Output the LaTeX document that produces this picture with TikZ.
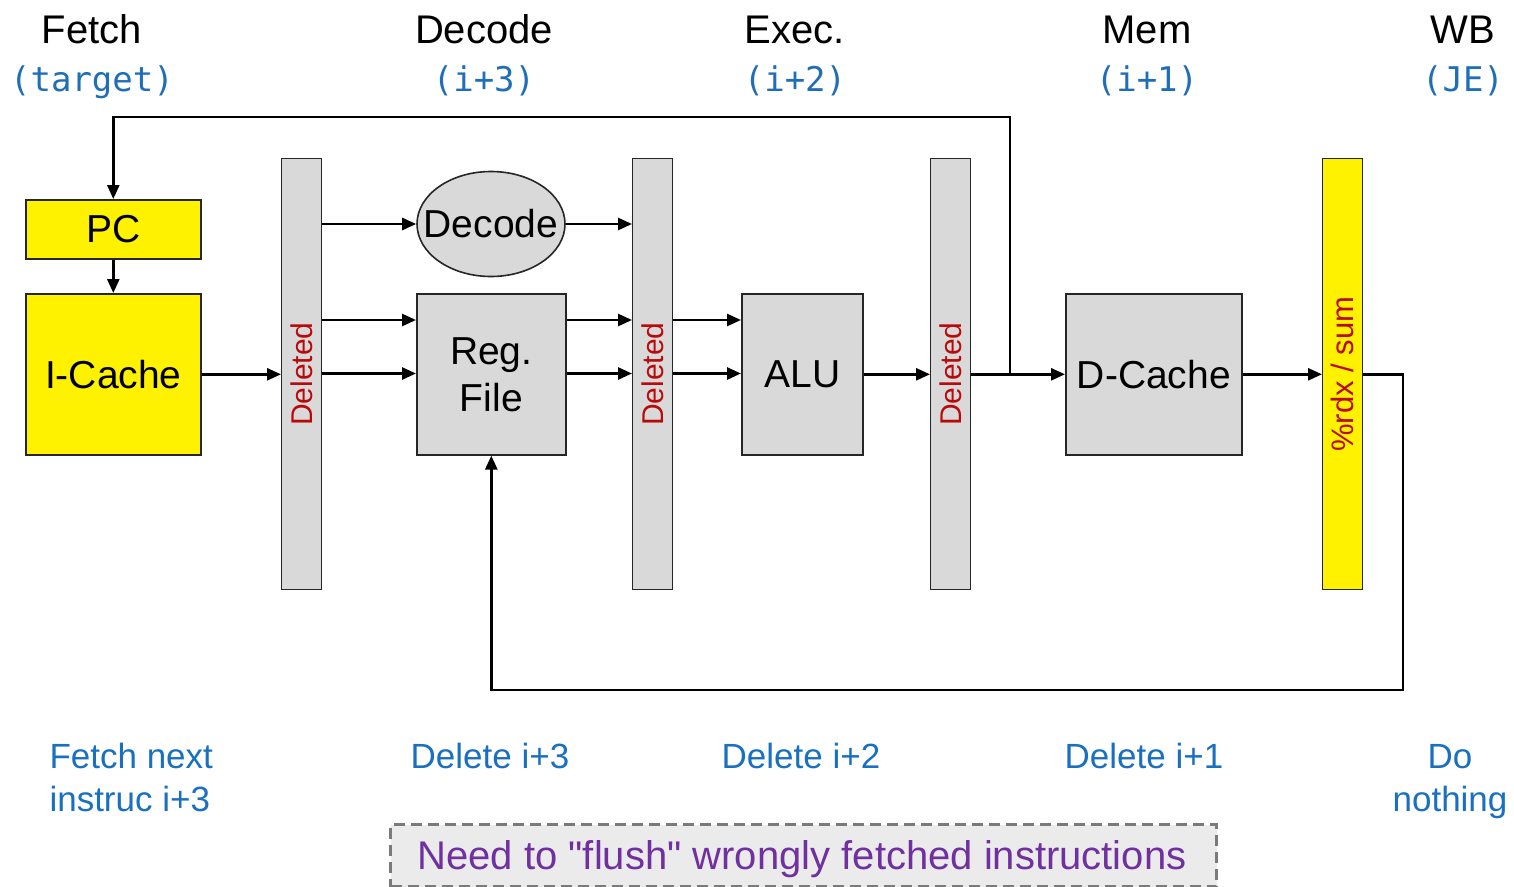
\documentclass[tikz,border=0pt]{standalone}
\usepackage{fontspec}
\setmainfont{Liberation Sans}
\newfontfamily\codefont{DejaVu Sans Mono}
\newfontfamily\plainquotes{Liberation Sans}[Ligatures=TeXOff]
\usetikzlibrary{arrows.meta,shapes.geometric}

\definecolor{boxgray}{HTML}{D9D9D9}
\definecolor{stageblue}{HTML}{1F6EB8}
\definecolor{noteblue}{HTML}{1A70C0}
\definecolor{latchred}{HTML}{B80A0A}
\definecolor{notepurple}{HTML}{7030A0}
\definecolor{notefill}{HTML}{EBEBEB}
\definecolor{dashgray}{HTML}{7A7A7A}

\tikzset{
  unit/.style={draw=black!85, line width=1.6pt, fill=boxgray, inner sep=0pt,
    anchor=north west, align=center, font=\fontsize{39}{44}\selectfont},
  yunit/.style={unit, fill=yellow},
  latch/.style={draw=black!85, line width=1.4pt, fill=boxgray, inner sep=0pt,
    anchor=north west, minimum width=40, minimum height=431},
  latchtext/.style={rotate=90, text=latchred, font=\fontsize{30}{32}\selectfont, inner sep=0pt},
  stage/.style={anchor=base, font=\fontsize{40}{44}\selectfont},
  stagecode/.style={anchor=base, text=stageblue, font=\codefont\fontsize{34}{36}\selectfont},
  action/.style={anchor=base, text=noteblue, font=\fontsize{35}{43}\selectfont, align=center},
  wire/.style={line width=2.6pt, draw=black},
  arr/.style={wire, -{Triangle[length=14pt,width=12pt]}},
}

\begin{document}
\begin{tikzpicture}[x=1pt,y=-1pt]
\useasboundingbox (0,0) rectangle (1514,886);

% stage headings
\node[stage] (hF) at (92,43) {Fetch};
\node[stagecode] (cF) at (92,91) {(target)};
\node[stage] (hD) at (484,43) {Decode};
\node[stagecode] (cD) at (484,91) {(i+3)};
\node[stage] (hE) at (795,43) {Exec.};
\node[stagecode] (cE) at (795,91) {(i+2)};
\node[stage] (hM) at (1147,43) {Mem};
\node[stagecode] (cM) at (1147,91) {(i+1)};
\node[stage] (hW) at (1463,43) {WB};
\node[stagecode] (cW) at (1463,91) {(JE)};

% fetch stage
\node[yunit, minimum width=175, minimum height=59] (pc) at (25,199) {PC};
\node[yunit, minimum width=175, minimum height=161] (ic) at (25,293) {I-Cache};

% pipeline registers
\node[latch] (l1) at (281,158) {};
\node[latchtext] (l1t) at (l1.center) {Deleted};
\node[latch] (l2) at (632,158) {};
\node[latchtext] (l2t) at (l2.center) {Deleted};
\node[latch] (l3) at (930,158) {};
\node[latchtext] (l3t) at (l3.center) {Deleted};
\node[latch, fill=yellow] (l4) at (1322,158) {};
\node[latchtext, font=\fontsize{31}{33}\selectfont] (l4t) at (l4.center) {\%rdx / sum};

% functional units
\node[ellipse, draw=black!85, line width=1.6pt, fill=boxgray, inner sep=0pt,
  minimum width=148, minimum height=105] (dec) at (491,224) {};
\node[font=\fontsize{39}{44}\selectfont, inner sep=0pt] (dect) at (dec.center) {Decode};
\node[unit, minimum width=149, minimum height=161] (rf) at (416,293) {Reg.\\[3pt]File};
\node[unit, minimum width=121, minimum height=161] (alu) at (741,293) {ALU};
\node[unit, minimum width=176, minimum height=161] (dc) at (1065,293) {D-Cache};

% row heights of the parallel wires
\coordinate (rowA) at (0,320);
\coordinate (rowB) at (0,373.5);
\coordinate (topy) at (0,117);
\coordinate (boty) at (0,690);
\coordinate (jn) at (1010,373.5);
\coordinate (wbx) at (1403,0);

% forward datapath
\draw[arr] (pc.south) -- (ic.north);
\draw[arr] (ic.east) -- (l1.west |- ic.east);
\draw[arr] (l1.east |- dec.west) -- (dec.west);
\draw[arr] (dec.east) -- (l2.west |- dec.east);
\draw[arr] (l1.east |- rowA) -- (rf.west |- rowA);
\draw[arr] (l1.east |- rowB) -- (rf.west |- rowB);
\draw[arr] (rf.east |- rowA) -- (l2.west |- rowA);
\draw[arr] (rf.east |- rowB) -- (l2.west |- rowB);
\draw[arr] (l2.east |- rowA) -- (alu.west |- rowA);
\draw[arr] (l2.east |- rowB) -- (alu.west |- rowB);
\draw[arr] (alu.east) -- (l3.west |- alu.east);
\draw[arr] (l3.east |- dc.west) -- (dc.west);
\draw[arr] (dc.east) -- (l4.west |- dc.east);

% branch target back to the PC
\draw[arr] (jn) -- (jn |- topy) -| (pc.north);

% write-back into the register file
\draw[arr] (l4.east |- dc.east) -| (wbx |- boty) -| (rf.south);

% per-stage actions (multi-line nodes sit on their last baseline)
\node[action, align=left, anchor=base west] (aF) at (46,811) {Fetch next\\instruc i+3};
\node[action] (aD) at (490,768) {Delete i+3};
\node[action] (aE) at (801,768) {Delete i+2};
\node[action] (aM) at (1144,768) {Delete i+1};
\node[action] (aW) at (1450,811) {Do\\nothing};

% note
\node[draw=dashgray, dash pattern=on 11pt off 6pt, line width=3pt, fill=notefill,
  anchor=north west, minimum width=826, minimum height=62, inner sep=0pt] (note) at (389,823) {};
\node[anchor=base, text=notepurple, font=\plainquotes\fontsize{40}{44}\selectfont] (notet) at (802,869)
  {Need to "flush" wrongly fetched instructions};
\end{tikzpicture}
\end{document}
